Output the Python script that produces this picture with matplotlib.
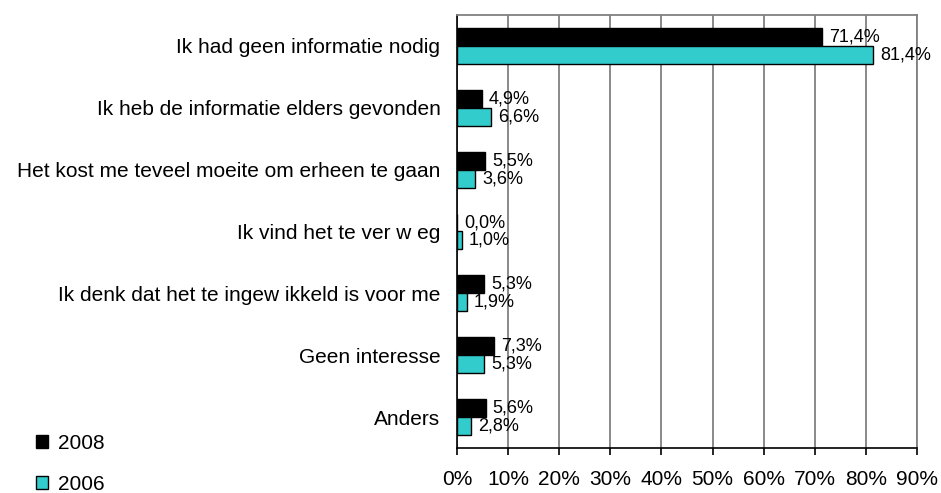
import matplotlib.pyplot as plt
import numpy as np
from matplotlib.patches import Patch

plt.rcParams['font.family'] = ['Liberation Sans', 'DejaVu Sans']

# Categories, top to bottom
categories = [
    'Ik had geen informatie nodig',
    'Ik heb de informatie elders gevonden',
    'Het kost me teveel moeite om erheen te gaan',
    'Ik vind het te ver w eg',
    'Ik denk dat het te ingew ikkeld is voor me',
    'Geen interesse',
    'Anders',
]
values_2008 = [71.4, 4.9, 5.5, 0.0, 5.3, 7.3, 5.6]
values_2006 = [81.4, 6.6, 3.6, 1.0, 1.9, 5.3, 2.8]
xticks = [0, 10, 20, 30, 40, 50, 60, 70, 80, 90]

fig = plt.figure(figsize=(9.41, 4.93), dpi=100)
ax = fig.add_axes([0.4857, 0.0913, 0.4888, 0.8783])

y = np.arange(len(categories))
h = 0.29
ax.barh(y - h / 2, values_2008, height=h, color='black', edgecolor='black',
        linewidth=1, label='2008', zorder=3)
ax.barh(y + h / 2, values_2006, height=h, color='#33CCCC', edgecolor='black',
        linewidth=1, label='2006', zorder=3)

for yi, v in zip(y, values_2008):
    ax.annotate(f'{v:.1f}%'.replace('.', ','), (v, yi - h / 2), xytext=(5, 0),
                textcoords='offset points', va='center', ha='left', fontsize=13)
for yi, v in zip(y, values_2006):
    ax.annotate(f'{v:.1f}%'.replace('.', ','), (v, yi + h / 2), xytext=(5, 0),
                textcoords='offset points', va='center', ha='left', fontsize=13)

ax.set_ylim(len(categories) - 0.5, -0.5)
ax.set_xlim(0, 90)
ax.set_yticks(y)
ax.set_yticklabels(categories, fontsize=15)
ax.tick_params(axis='y', length=0, pad=12)
ax.set_xticks(xticks)
ax.set_xticklabels([f'{t}%' for t in xticks], fontsize=15)
ax.tick_params(axis='x', direction='out', length=5, width=1.2, pad=11)

ax.grid(axis='x', color='#808080', linewidth=1.3, zorder=0)
ax.spines['left'].set_color('black')
ax.spines['bottom'].set_color('black')
ax.spines['left'].set_linewidth(1.2)
ax.spines['bottom'].set_linewidth(1.2)
ax.spines['top'].set_color('#808080')
ax.spines['right'].set_color('#808080')
ax.spines['top'].set_linewidth(1.3)
ax.spines['right'].set_linewidth(1.3)

handles = [Patch(facecolor='black', edgecolor='black', label='2008'),
           Patch(facecolor='#33CCCC', edgecolor='black', label='2006')]
fig.legend(handles=handles, loc='lower left', bbox_to_anchor=(0.018, -0.04),
           frameon=False, fontsize=15, handlelength=0.6, handleheight=0.6,
           handletextpad=0.45, labelspacing=1.05)

fig.savefig('out.png', dpi=100)
